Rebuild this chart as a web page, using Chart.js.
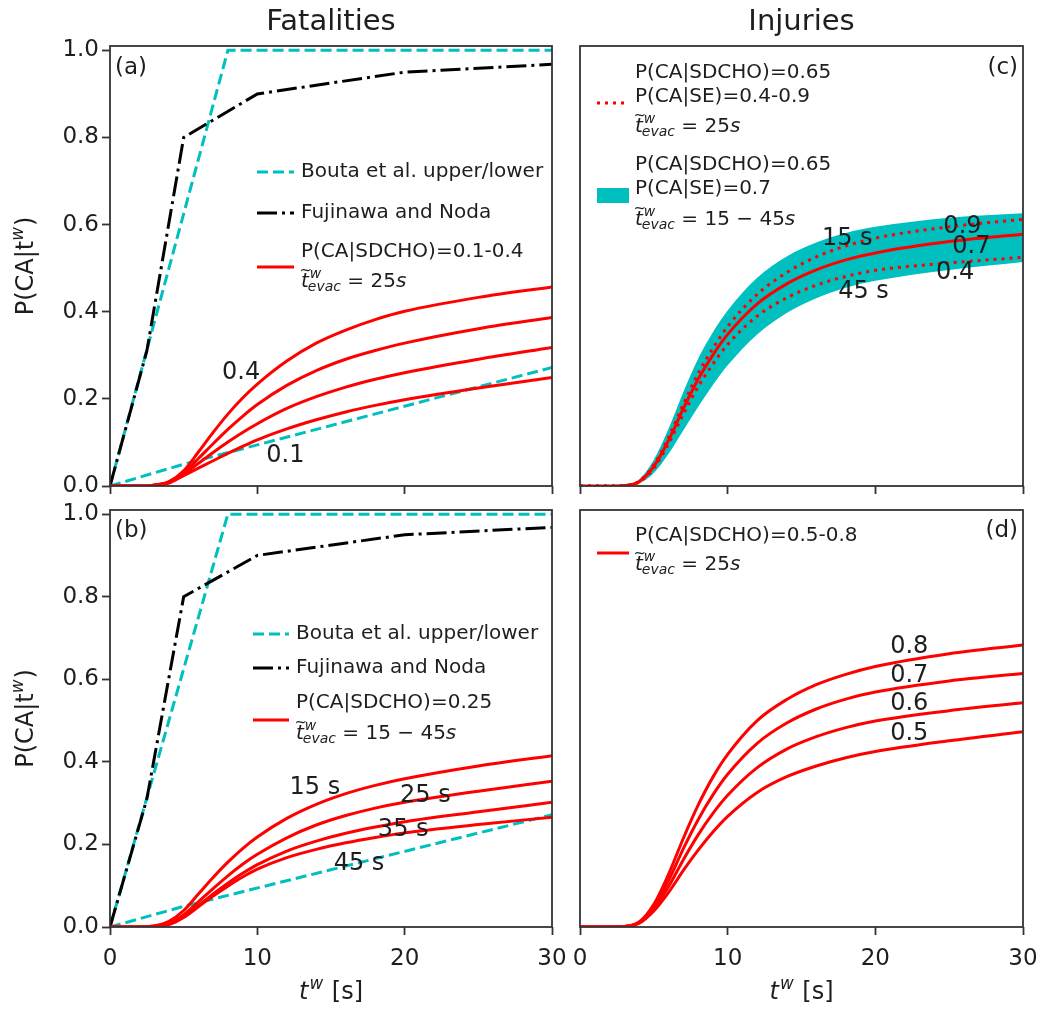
<!DOCTYPE html>
<html>
<head>
<meta charset="utf-8">
<script src="https://cdn.jsdelivr.net/npm/chart.js@4.4.1/dist/chart.umd.min.js"></script>
<style>
html, body { margin: 0; padding: 0; background: #fff; overflow: hidden; }
#wrap { position: relative; width: 1041px; height: 1031px; overflow: hidden; }
#wrap canvas { position: absolute; left: 0; top: 0; }
</style>
</head>
<body>
<div id="wrap">
    <canvas id="panelA" width="1100" height="1031"></canvas>
    <canvas id="panelB" width="1100" height="1031"></canvas>
    <canvas id="panelC" width="1100" height="1031"></canvas>
    <canvas id="panelD" width="1100" height="1031"></canvas>
</div>
<script>
// ---- data ----
const tSamples = [0, 2, 3, 4, 5, 6, 7, 8, 9, 10, 12, 14, 16, 18, 20, 25, 30];
const xTicks = [0, 10, 20, 30];
const yTicks = [0, 0.2, 0.4, 0.6, 0.8, 1.0];

// reference curves (piecewise linear)
const boutaUpperT = [0, 8, 30];
const boutaUpper = [0, 1, 1];
const boutaLowerT = [0, 5, 30];
const boutaLower = [0, 0.05, 0.272];
const fujinawaT = [0, 2.5, 5, 10, 20, 30];
const fujinawa = [0, 0.31, 0.8, 0.9, 0.95, 0.968];

// (a) fatalities, P(CA|SDCHO) = 0.4 .. 0.1
const fatal04 = [0, 0, 0.002, 0.01, 0.035, 0.078, 0.123, 0.165, 0.202, 0.234, 0.287, 0.328, 0.358, 0.382, 0.401, 0.433, 0.457];
const fatal03 = [0, 0, 0.002, 0.009, 0.03, 0.063, 0.097, 0.13, 0.16, 0.187, 0.231, 0.265, 0.291, 0.311, 0.328, 0.361, 0.387];
const fatal02 = [0, 0, 0.002, 0.008, 0.027, 0.052, 0.077, 0.101, 0.123, 0.143, 0.178, 0.205, 0.227, 0.245, 0.26, 0.291, 0.318];
const fatal01 = [0, 0, 0.002, 0.007, 0.024, 0.041, 0.058, 0.075, 0.091, 0.106, 0.131, 0.152, 0.17, 0.185, 0.198, 0.225, 0.249];

// (b) fatalities, evacuation time 15 .. 45 s
const fatal15s = [0, 0, 0.003, 0.014, 0.04, 0.08, 0.12, 0.157, 0.19, 0.218, 0.263, 0.297, 0.323, 0.343, 0.359, 0.39, 0.415];
const fatal25s = [0, 0, 0.002, 0.009, 0.03, 0.061, 0.093, 0.124, 0.152, 0.176, 0.216, 0.247, 0.27, 0.288, 0.302, 0.329, 0.353];
const fatal35s = [0, 0, 0.001, 0.007, 0.025, 0.052, 0.08, 0.106, 0.13, 0.151, 0.184, 0.208, 0.227, 0.242, 0.255, 0.279, 0.302];
const fatal45s = [0, 0, 0.001, 0.006, 0.023, 0.049, 0.075, 0.099, 0.121, 0.14, 0.168, 0.188, 0.204, 0.217, 0.228, 0.248, 0.266];

// (c) injuries, P(CA|SE) = 0.7 with band 15-45 s, dotted 0.9 / 0.4
const injMid = [0, 0, 0.001, 0.01, 0.045, 0.105, 0.178, 0.245, 0.301, 0.348, 0.418, 0.464, 0.496, 0.519, 0.535, 0.561, 0.578];
const injSe09 = [0, 0, 0.001, 0.011, 0.049, 0.112, 0.188, 0.258, 0.316, 0.366, 0.44, 0.49, 0.526, 0.551, 0.569, 0.595, 0.612];
const injSe04 = [0, 0, 0.001, 0.009, 0.041, 0.097, 0.165, 0.228, 0.28, 0.325, 0.39, 0.432, 0.461, 0.481, 0.495, 0.512, 0.525];
const injBand15 = [0, 0, 0.002, 0.015, 0.06, 0.132, 0.216, 0.292, 0.353, 0.403, 0.478, 0.527, 0.559, 0.581, 0.595, 0.616, 0.626];
const injBand45 = [0, 0, 0, 0.006, 0.03, 0.074, 0.128, 0.182, 0.232, 0.277, 0.348, 0.397, 0.431, 0.455, 0.471, 0.496, 0.514];

// (d) injuries, P(CA|SDCHO) = 0.8 .. 0.5
const inj08 = [0, 0, 0.001, 0.012, 0.055, 0.128, 0.215, 0.295, 0.363, 0.418, 0.5, 0.551, 0.587, 0.612, 0.631, 0.662, 0.683];
const inj07 = [0, 0, 0.001, 0.011, 0.05, 0.113, 0.19, 0.26, 0.32, 0.37, 0.445, 0.494, 0.528, 0.552, 0.569, 0.596, 0.614];
const inj06 = [0, 0, 0.001, 0.01, 0.044, 0.098, 0.163, 0.223, 0.275, 0.319, 0.386, 0.431, 0.461, 0.483, 0.499, 0.524, 0.543];
const inj05 = [0, 0, 0.001, 0.009, 0.039, 0.084, 0.137, 0.186, 0.23, 0.268, 0.326, 0.364, 0.39, 0.41, 0.425, 0.451, 0.473];

// ---- styles ----
const CYAN = "#00bfbf";
const RED = "#ff0000";
const INK = "#1e1e1e";
const FAMILY = '"DejaVu Sans"';
const DASH = [11, 5];
const DASHDOT = [20, 5, 3, 5];
const DOT = [3, 5];
const LW = 3;
const CANVAS_W = 1100;

Chart.defaults.font.family = FAMILY;

function pts(ts, vs) {
    return ts.map((t, i) => ({ x: t, y: vs[i] }));
}

function redCurve(vs, dash) {
    return {
        data: pts(tSamples, vs),
        borderColor: RED,
        borderWidth: LW,
        borderDash: dash || [],
        cubicInterpolationMode: "monotone",
        order: 1,
    };
}

function referenceSets() {
    return [
        { data: pts(fujinawaT, fujinawa), borderColor: "#000", borderWidth: LW, borderDash: DASHDOT, tension: 0, order: 2 },
        { data: pts(boutaUpperT, boutaUpper), borderColor: CYAN, borderWidth: LW, borderDash: DASH, tension: 0, order: 3 },
        { data: pts(boutaLowerT, boutaLower), borderColor: CYAN, borderWidth: LW, borderDash: DASH, tension: 0, order: 3 },
    ];
}

// text annotations next to the curves (data coordinates)
const notesA = [
    { t: 8.9, v: 0.259, text: "0.4" },
    { t: 11.9, v: 0.07, text: "0.1" },
];
const notesB = [
    { t: 13.9, v: 0.338, text: "15 s" },
    { t: 21.4, v: 0.318, text: "25 s" },
    { t: 19.9, v: 0.235, text: "35 s" },
    { t: 16.9, v: 0.152, text: "45 s" },
];
const notesC = [
    { t: 18.1, v: 0.567, text: "15 s" },
    { t: 19.2, v: 0.447, text: "45 s" },
    { t: 25.9, v: 0.596, text: "0.9" },
    { t: 26.5, v: 0.55, text: "0.7" },
    { t: 25.4, v: 0.49, text: "0.4" },
];
const notesD = [
    { t: 22.3, v: 0.678, text: "0.8" },
    { t: 22.3, v: 0.608, text: "0.7" },
    { t: 22.3, v: 0.54, text: "0.6" },
    { t: 22.3, v: 0.467, text: "0.5" },
];

// legends (offsets from the plot area's top-left corner)
const legendA = {
    hx0: 147, hx1: 184, tx: 191,
    items: [
        { handle: { kind: "line", color: CYAN, dash: DASH, dy: 126 }, rows: [{ dy: 126, text: "Bouta et al. upper/lower" }] },
        { handle: { kind: "line", color: "#000", dash: DASHDOT, dy: 167 }, rows: [{ dy: 167, text: "Fujinawa and Noda" }] },
        { handle: { kind: "line", color: RED, dash: [], dy: 221 }, rows: [{ dy: 206, text: "P(CA|SDCHO)=0.1-0.4" }, { dy: 234, math: " = 25" }] },
    ],
};
const legendB = {
    hx0: 143, hx1: 179, tx: 186,
    items: [
        { handle: { kind: "line", color: CYAN, dash: DASH, dy: 124 }, rows: [{ dy: 124, text: "Bouta et al. upper/lower" }] },
        { handle: { kind: "line", color: "#000", dash: DASHDOT, dy: 158 }, rows: [{ dy: 158, text: "Fujinawa and Noda" }] },
        { handle: { kind: "line", color: RED, dash: [], dy: 210 }, rows: [{ dy: 193, text: "P(CA|SDCHO)=0.25" }, { dy: 222, math: " = 15 \u2212 45" }] },
    ],
};
const legendC = {
    hx0: 17, hx1: 49, tx: 55,
    items: [
        { handle: { kind: "line", color: RED, dash: DOT, dy: 57 }, rows: [{ dy: 27, text: "P(CA|SDCHO)=0.65" }, { dy: 51, text: "P(CA|SE)=0.4-0.9" }, { dy: 79, math: " = 25" }] },
        { handle: { kind: "patch", color: CYAN, dy: 149 }, rows: [{ dy: 119, text: "P(CA|SDCHO)=0.65" }, { dy: 143, text: "P(CA|SE)=0.7" }, { dy: 172, math: " = 15 \u2212 45" }] },
    ],
};
const legendD = {
    hx0: 17, hx1: 49, tx: 55,
    items: [
        { handle: { kind: "line", color: RED, dash: [], dy: 43 }, rows: [{ dy: 26, text: "P(CA|SDCHO)=0.5-0.8" }, { dy: 53, math: " = 25" }] },
    ],
};

// draws  t~^w_evac <rhs> s  with y as the vertical middle of the row
function drawTevac(ctx, x, y, rhs, size) {
    const base = y + size * 0.36;
    const small = size * 0.7;
    ctx.textAlign = "left";
    ctx.textBaseline = "alphabetic";
    ctx.font = `italic ${size}px ${FAMILY}`;
    ctx.fillText("t", x, base);
    const tw = ctx.measureText("t").width;
    ctx.font = `${size * 0.75}px ${FAMILY}`;
    ctx.textAlign = "center";
    ctx.fillText("~", x + tw * 0.62, base - size * 0.6);
    ctx.textAlign = "left";
    ctx.font = `italic ${small}px ${FAMILY}`;
    ctx.fillText("w", x + tw + 1, base - size * 0.45);
    ctx.fillText("evac", x + tw - 1, base + size * 0.2);
    let cx = x + tw - 1 + ctx.measureText("evac").width;
    ctx.font = `${size}px ${FAMILY}`;
    ctx.fillText(rhs, cx, base);
    cx += ctx.measureText(rhs).width;
    ctx.font = `italic ${size}px ${FAMILY}`;
    ctx.fillText("s", cx, base);
}

// "t^w [s]" centred at x
function drawXTitle(ctx, cx, y, size) {
    const small = size * 0.7;
    ctx.textBaseline = "middle";
    ctx.textAlign = "left";
    ctx.font = `italic ${size}px ${FAMILY}`;
    const tw = ctx.measureText("t").width;
    ctx.font = `italic ${small}px ${FAMILY}`;
    const ww = ctx.measureText("w").width;
    ctx.font = `${size}px ${FAMILY}`;
    const rw = ctx.measureText(" [s]").width;
    let x = cx - (tw + ww + 2 + rw) / 2;
    ctx.font = `italic ${size}px ${FAMILY}`;
    ctx.fillText("t", x, y);
    ctx.font = `italic ${small}px ${FAMILY}`;
    ctx.fillText("w", x + tw + 1, y - size * 0.33);
    ctx.font = `${size}px ${FAMILY}`;
    ctx.fillText(" [s]", x + tw + ww + 2, y);
}

// "P(CA|t^w)" rotated, centred at (x, cy)
function drawYTitle(ctx, x, cy, size) {
    const small = size * 0.7;
    ctx.save();
    ctx.translate(x, cy);
    ctx.rotate(-Math.PI / 2);
    ctx.textBaseline = "middle";
    ctx.textAlign = "left";
    ctx.font = `${size}px ${FAMILY}`;
    const w1 = ctx.measureText("P(CA|t").width;
    const w3 = ctx.measureText(")").width;
    ctx.font = `italic ${small}px ${FAMILY}`;
    const w2 = ctx.measureText("w").width;
    let px = -(w1 + w2 + w3 + 1) / 2;
    ctx.font = `${size}px ${FAMILY}`;
    ctx.fillText("P(CA|t", px, 0);
    ctx.font = `italic ${small}px ${FAMILY}`;
    ctx.fillText("w", px + w1, -size * 0.33);
    ctx.font = `${size}px ${FAMILY}`;
    ctx.fillText(")", px + w1 + w2 + 1, 0);
    ctx.restore();
}

const decoPlugin = {
    id: "deco",
    afterDraw(chart, args, o) {
        const ctx = chart.ctx;
        const a = chart.chartArea;
        const xs = chart.scales.x;
        const ys = chart.scales.y;
        ctx.save();
        ctx.setLineDash([]);

        // axes frame
        ctx.strokeStyle = "#333";
        ctx.lineWidth = 1.8;
        ctx.strokeRect(a.left, a.top, a.right - a.left, a.bottom - a.top);

        ctx.fillStyle = INK;
        if (o.title) {
            ctx.font = `29px ${FAMILY}`;
            ctx.textAlign = "center";
            ctx.textBaseline = "middle";
            ctx.fillText(o.title, (a.left + a.right) / 2, a.top - 24);
        }
        if (o.xTitle) drawXTitle(ctx, (a.left + a.right) / 2, a.bottom + 66, 24);
        if (o.yTitle) drawYTitle(ctx, 27, (a.top + a.bottom) / 2, 24);

        // panel tag
        ctx.font = `23px ${FAMILY}`;
        ctx.textBaseline = "middle";
        if (o.tagRight) {
            ctx.textAlign = "right";
            ctx.fillText(o.tag, a.right - 5, a.top + o.tagDy);
        } else {
            ctx.textAlign = "left";
            ctx.fillText(o.tag, a.left + 5, a.top + o.tagDy);
        }

        // curve labels
        ctx.font = `24px ${FAMILY}`;
        ctx.textAlign = "center";
        ctx.textBaseline = "middle";
        o.notes.forEach((n) => {
            ctx.fillText(n.text, xs.getPixelForValue(n.t), ys.getPixelForValue(n.v));
        });

        // legend
        const lg = o.legend;
        lg.items.forEach((item) => {
            const h = item.handle;
            const hy = a.top + h.dy;
            if (h.kind === "patch") {
                ctx.fillStyle = h.color;
                ctx.fillRect(a.left + lg.hx0, hy - 7, lg.hx1 - lg.hx0, 15);
            } else {
                ctx.strokeStyle = h.color;
                ctx.lineWidth = LW;
                ctx.setLineDash(h.dash);
                ctx.beginPath();
                ctx.moveTo(a.left + lg.hx0, hy);
                ctx.lineTo(a.left + lg.hx1, hy);
                ctx.stroke();
                ctx.setLineDash([]);
            }
            ctx.fillStyle = INK;
            item.rows.forEach((r) => {
                const ry = a.top + r.dy;
                if (r.math) {
                    drawTevac(ctx, a.left + lg.tx, ry, r.math, 20);
                } else {
                    ctx.font = `20px ${FAMILY}`;
                    ctx.textAlign = "left";
                    ctx.textBaseline = "middle";
                    ctx.fillText(r.text, a.left + lg.tx, ry);
                }
            });
        });
        ctx.restore();
    },
};

function makePanel(id, cfg) {
    const tickFont = { family: FAMILY, size: 23 };
    const tickGrid = {
        display: true,
        drawOnChartArea: false,
        drawTicks: true,
        tickLength: 8,
        tickWidth: 1.8,
        tickColor: "#333",
    };
    return new Chart(document.getElementById(id), {
        type: "line",
        data: { datasets: cfg.datasets },
        options: {
            responsive: false,
            animation: false,
            layout: { padding: cfg.padding },
            elements: { point: { radius: 0 } },
            plugins: {
                legend: { display: false },
                tooltip: { enabled: false },
                deco: cfg.deco,
            },
            scales: {
                x: {
                    type: "linear",
                    min: 0,
                    max: 30,
                    afterBuildTicks: (s) => { s.ticks = xTicks.map((v) => ({ value: v })); },
                    afterFit: (s) => { s.height = cfg.xHeight; },
                    ticks: { display: cfg.xLabels, font: tickFont, color: INK, padding: 10, maxRotation: 0, autoSkip: false, callback: (v) => String(v) },
                    grid: tickGrid,
                    border: { display: false },
                },
                y: {
                    type: "linear",
                    display: cfg.yAxis,
                    min: 0,
                    max: 1.01,
                    afterBuildTicks: (s) => { s.ticks = yTicks.map((v) => ({ value: v })); },
                    afterFit: (s) => { s.width = cfg.yAxis ? 110 : 0; },
                    ticks: { font: tickFont, color: INK, padding: 3, autoSkip: false, callback: (v) => v.toFixed(1) },
                    grid: tickGrid,
                    border: { display: false },
                },
            },
        },
        plugins: [decoPlugin],
    });
}

makePanel("panelA", {
    padding: { left: 0, top: 46, right: CANVAS_W - 552, bottom: 535 },
    xHeight: 10, xLabels: false, yAxis: true,
    datasets: [redCurve(fatal04), redCurve(fatal03), redCurve(fatal02), redCurve(fatal01)].concat(referenceSets()),
    deco: { title: "Fatalities", yTitle: true, tag: "(a)", tagDy: 22, notes: notesA, legend: legendA },
});

makePanel("panelB", {
    padding: { left: 0, top: 510, right: CANVAS_W - 552, bottom: 64 },
    xHeight: 40, xLabels: true, yAxis: true,
    datasets: [redCurve(fatal15s), redCurve(fatal25s), redCurve(fatal35s), redCurve(fatal45s)].concat(referenceSets()),
    deco: { xTitle: true, yTitle: true, tag: "(b)", tagDy: 21, notes: notesB, legend: legendB },
});

makePanel("panelC", {
    padding: { left: 580, top: 46, right: CANVAS_W - 1023, bottom: 535 },
    xHeight: 10, xLabels: false, yAxis: false,
    datasets: [
        Object.assign(redCurve(injSe09, DOT), { order: 0 }),
        Object.assign(redCurve(injSe04, DOT), { order: 0 }),
        redCurve(injMid),
        { data: pts(tSamples, injBand15), borderWidth: 0, backgroundColor: CYAN, fill: "+1", cubicInterpolationMode: "monotone", order: 5 },
        { data: pts(tSamples, injBand45), borderWidth: 0, fill: false, cubicInterpolationMode: "monotone", order: 6 },
    ],
    deco: { title: "Injuries", tag: "(c)", tagRight: true, tagDy: 22, notes: notesC, legend: legendC },
});

makePanel("panelD", {
    padding: { left: 580, top: 510, right: CANVAS_W - 1023, bottom: 64 },
    xHeight: 40, xLabels: true, yAxis: false,
    datasets: [redCurve(inj08), redCurve(inj07), redCurve(inj06), redCurve(inj05)],
    deco: { xTitle: true, tag: "(d)", tagRight: true, tagDy: 21, notes: notesD, legend: legendD },
});
</script>
</body>
</html>
